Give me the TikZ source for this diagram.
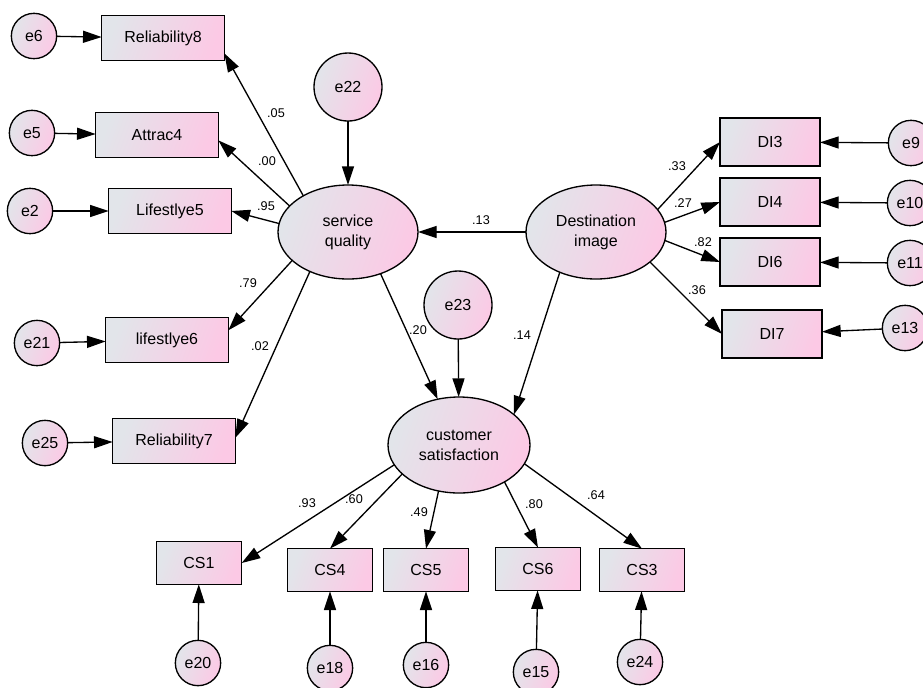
\documentclass[tikz,border=0pt]{standalone}
\usepackage{fontspec}
\setmainfont{Liberation Sans}
\usetikzlibrary{arrows.meta,shapes.geometric}
\definecolor{semgray}{HTML}{E2E5EA}
\definecolor{sempink}{HTML}{FCC9E5}

\begin{document}
\begin{tikzpicture}[x=0.75pt,y=-0.75pt,
  grad/.style={left color=semgray,right color=sempink,shading angle=70},
  latent/.style={ellipse,draw,line width=1pt,grad,inner sep=0pt,outer sep=0pt,align=center,
    font=\fontsize{12}{15}\selectfont,minimum width=105pt,minimum height=70.5pt},
  err/.style={circle,draw,line width=1pt,grad,inner sep=0pt,outer sep=0pt,minimum size=34pt,
    font=\fontsize{12}{14}\selectfont},
  bigerr/.style={err,minimum size=51pt},
  obs/.style={rectangle,draw,line width=1pt,grad,inner sep=0pt,outer sep=0pt,
    font=\fontsize{12}{14}\selectfont,minimum width=92pt,minimum height=34pt},
  dibox/.style={obs,minimum width=75pt,minimum height=36pt},
  csbox/.style={obs,minimum width=64pt,minimum height=32pt},
  reg/.style={line width=1pt,-{Triangle[length=14pt,width=9pt]}},
  coef/.style={font=\fontsize{9.5}{11}\selectfont}
]
\useasboundingbox (0,0) rectangle (923,687);
\clip (0,0) rectangle (923,687);

% Latent variables
\node[latent] (sq) at (348,232) {service\\quality};
\node[latent] (di) at (596,232) {Destination\\image};
\node[latent,minimum width=106.5pt,minimum height=72pt] (cs) at (459,445) {customer\\satisfaction};
\node[bigerr] (e22) at (348,87) {e22};
\node[bigerr] (e23) at (458,305) {e23};

% Service quality items
\node[obs] (rel8) at (163,38) {Reliability8};
\node[obs] (att4) at (157,135) {Attrac4};
\node[obs] (ls5) at (170,211) {Lifestlye5};
\node[obs] (ls6) at (167,340) {lifestlye6};
\node[obs] (rel7) at (174,441) {Reliability7};
\node[err] (e6) at (34,36) {e6};
\node[err] (e5) at (32,133) {e5};
\node[err] (e2) at (30,211) {e2};
\node[err] (e21) at (37,343) {e21};
\node[err] (e25) at (45,443) {e25};

% Destination image items
\node[dibox] (di3) at (770,142) {DI3};
\node[dibox] (di4) at (770,202) {DI4};
\node[dibox] (di6) at (770,262) {DI6};
\node[dibox] (di7) at (772,334) {DI7};
\node[err] (e9) at (911,143) {e9};
\node[err] (e10) at (910,203) {e10};
\node[err] (e11) at (910,263) {e11};
\node[err] (e13) at (905,328) {e13};

% Customer satisfaction items
\node[csbox] (cs1) at (199,563) {CS1};
\node[csbox] (cs4) at (330,570) {CS4};
\node[csbox] (cs5) at (426,570) {CS5};
\node[csbox] (cs6) at (538,569) {CS6};
\node[csbox] (cs3) at (642,570) {CS3};
\node[err] (e20) at (198,663) {e20};
\node[err] (e18) at (330,668) {e18};
\node[err] (e16) at (426,665) {e16};
\node[err] (e15) at (536,672) {e15};
\node[err] (e24) at (640,662) {e24};

% Structural paths
\draw[reg] (e22) -- (sq);
\draw[reg] (e23) -- (cs);
\draw[reg] (di) -- (sq);
\draw[reg] (sq.-52) -- (cs.115);
\draw[reg] (di.228) -- (cs.29);

% Loadings
\draw[reg] (sq.141) -- (rel8.-14);
\draw[reg] (sq.156) -- (att4.-5);
\draw[reg] (sq.173) -- (ls5.east);
\draw[reg] (sq.207) -- (ls6.9);
\draw[reg] (sq.226) -- (rel7.3);
\draw[reg] (di.20) -- (di3.west);
\draw[reg] (di.8) -- (di4.west);
\draw[reg] (di.-7) -- (di6.west);
\draw[reg] (di.-29) -- (di7.west);
\draw[reg] (cs.197) -- (cs1.east);
\draw[reg] (cs.207) -- (cs4.north);
\draw[reg] (cs.246) -- (cs5.north);
\draw[reg] (cs.-39) -- (cs6.north);
\draw[reg] (cs.-16) -- (cs3.north);

% Errors
\draw[reg] (e6) -- (rel8);
\draw[reg] (e5) -- (att4);
\draw[reg] (e2) -- (ls5);
\draw[reg] (e21) -- (ls6);
\draw[reg] (e25) -- (rel7);
\draw[reg] (e9) -- (di3);
\draw[reg] (e10) -- (di4);
\draw[reg] (e11) -- (di6);
\draw[reg] (e13) -- (di7);
\draw[reg] (e20) -- (cs1);
\draw[reg] (e18) -- (cs4);
\draw[reg] (e16) -- (cs5);
\draw[reg] (e15) -- (cs6);
\draw[reg] (e24) -- (cs3);

% Coefficients
\node[coef] (c05) at (276,113) {.05};
\node[coef] (c00) at (267,161) {.00};
\node[coef] (c95) at (266,206) {.95};
\node[coef] (c79) at (248,283) {.79};
\node[coef] (c02) at (260,346) {.02};
\node[coef] (c13) at (481,220) {.13};
\node[coef] (c20) at (418,330) {.20};
\node[coef] (c14) at (522,335) {.14};
\node[coef] (c33) at (677,166) {.33};
\node[coef] (c27) at (683,203) {.27};
\node[coef] (c82) at (703,242) {.82};
\node[coef] (c36) at (697,290) {.36};
\node[coef] (c93) at (307,503) {.93};
\node[coef] (c60) at (354,499) {.60};
\node[coef] (c49) at (419,512) {.49};
\node[coef] (c80) at (534,504) {.80};
\node[coef] (c64) at (596,495) {.64};
\end{tikzpicture}
\end{document}
